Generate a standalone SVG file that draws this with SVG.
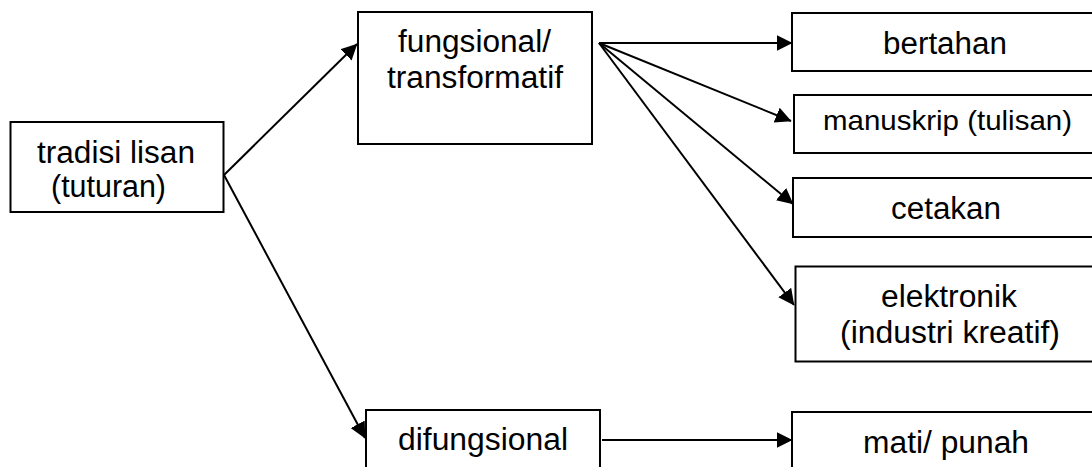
<svg xmlns="http://www.w3.org/2000/svg" width="1092" height="467" viewBox="0 0 1092 467">
  <style>
    .box { fill: #ffffff; stroke: #000000; stroke-width: 2; }
    .lbl { font-family: "Liberation Sans", Arial, sans-serif; font-size: 31px; fill: #000000; }
    .sm { font-size: 28.5px; }
    .conn { stroke: #000000; stroke-width: 2; fill: none; marker-end: url(#arrow); }
  </style>
  <defs>
    <marker id="arrow" markerUnits="userSpaceOnUse" markerWidth="17" markerHeight="17" refX="15.5" refY="8" orient="auto">
      <path d="M0,0 L16,8 L0,16 Z" fill="#000000"/>
    </marker>
  </defs>
  <rect width="1092" height="467" fill="#ffffff"/>

  <g id="connectors">
    <line class="conn" x1="224" y1="175" x2="357" y2="44"/>
    <line class="conn" x1="224" y1="175" x2="365" y2="438"/>
    <line class="conn" x1="599" y1="43" x2="792" y2="43"/>
    <line class="conn" x1="599" y1="43" x2="791" y2="121"/>
    <line class="conn" x1="599" y1="43" x2="793" y2="204"/>
    <line class="conn" x1="599" y1="43" x2="794" y2="305"/>
    <line class="conn" x1="602" y1="440" x2="792" y2="440"/>
  </g>

  <g id="tradisi">
    <rect class="box" x="10.5" y="122" width="213" height="90"/>
    <text class="lbl" x="37" y="163" textLength="158" lengthAdjust="spacingAndGlyphs">tradisi lisan</text>
    <text class="lbl" x="51" y="197" textLength="115" lengthAdjust="spacingAndGlyphs">(tuturan)</text>
  </g>

  <g id="fungsional">
    <rect class="box" x="358" y="12" width="234" height="132"/>
    <text class="lbl" x="398" y="52" textLength="153" lengthAdjust="spacingAndGlyphs">fungsional/</text>
    <text class="lbl" x="387" y="88" textLength="176" lengthAdjust="spacingAndGlyphs">transformatif</text>
  </g>

  <g id="bertahan">
    <rect class="box" x="792" y="13" width="320" height="58"/>
    <text class="lbl" x="883" y="54" textLength="124" lengthAdjust="spacingAndGlyphs">bertahan</text>
  </g>

  <g id="manuskrip">
    <rect class="box" x="794" y="95" width="320" height="58"/>
    <text class="lbl sm" x="823" y="130" textLength="249" lengthAdjust="spacingAndGlyphs">manuskrip (tulisan)</text>
  </g>

  <g id="cetakan">
    <rect class="box" x="793" y="178" width="320" height="59"/>
    <text class="lbl" x="891" y="219" textLength="110" lengthAdjust="spacingAndGlyphs">cetakan</text>
  </g>

  <g id="elektronik">
    <rect class="box" x="795.5" y="266.5" width="320" height="95"/>
    <text class="lbl" x="881" y="307" textLength="136" lengthAdjust="spacingAndGlyphs">elektronik</text>
    <text class="lbl" x="840" y="343" textLength="220" lengthAdjust="spacingAndGlyphs">(industri kreatif)</text>
  </g>

  <g id="difungsional">
    <rect class="box" x="366" y="410" width="234" height="80"/>
    <text class="lbl" x="398" y="450" textLength="170" lengthAdjust="spacingAndGlyphs">difungsional</text>
  </g>

  <g id="mati">
    <rect class="box" x="792" y="412" width="320" height="80"/>
    <text class="lbl" x="863" y="453" textLength="166" lengthAdjust="spacingAndGlyphs">mati/ punah</text>
  </g>
</svg>
